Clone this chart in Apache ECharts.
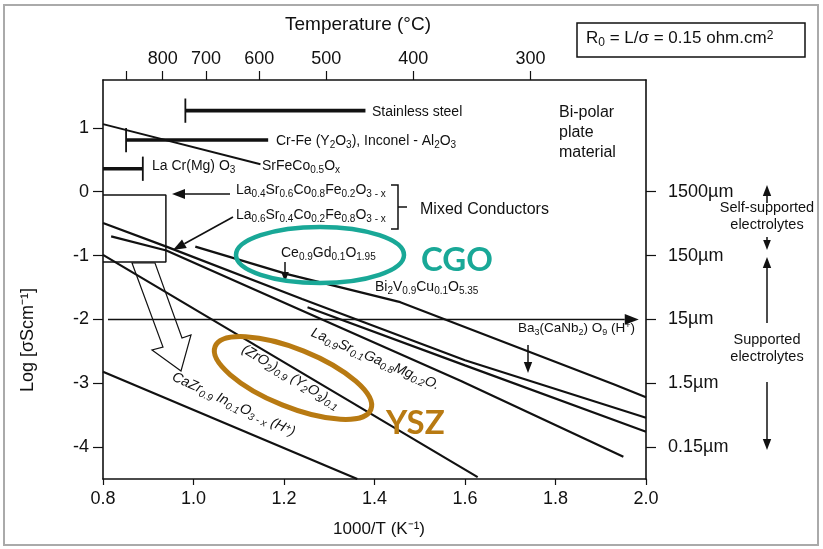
<!DOCTYPE html>
<html lang="en">
<head>
<meta charset="UTF-8">
<title>Conductivity vs 1000/T</title>
<script src="https://cdn.jsdelivr.net/npm/echarts@6/dist/echarts.min.js"></script>
<style>
    html, body { margin: 0; padding: 0; background: #fff; }
    #chart { width: 823px; height: 549px; }
</style>
</head>
<body>
<div id="chart"></div>
<script>
    // lines, points are [1000/T, log sigma]
    var bi2vLine = [[1.004, -0.86], [1.207, -1.29], [1.457, -1.73], [1.93, -3.02], [2.0, -3.22]];
    var lscfLine = [[0.8, -0.49], [0.94, -0.86], [1.24, -1.68], [1.6, -2.64], [2.0, -3.54]];
    var lsgmLine = [[0.818, -0.70], [0.94, -0.92], [1.233, -1.84], [1.59, -2.96], [1.95, -4.15]];
    var ba3Line = [[1.252, -1.81], [1.6, -2.72], [2.0, -3.76]];
    var yszLine = [[0.8, -0.99], [1.628, -4.47]];
    var caZrLine = [[0.8, -2.82], [1.362, -4.5]];
    var srFeCoLine = [[0.8, 1.06], [1.148, 0.43]];

    // bipolar plate ranges: [from, to, log sigma]
    var stainlessBar = [0.982, 1.38, 1.27];
    var crFeBar = [0.851, 1.165, 0.81];
    var laCrBar = [0.8, 0.888, 0.36];
    // mixed conductor box: [x0, x1, yTop, yBottom]
    var mixedBox = [0.8, 0.939, -0.05, -1.10];
    var thicknessLevel = -2;

    var tempTicks = [900, 800, 700, 600, 500, 400, 300];
    var tempLabels = [800, 700, 600, 500, 400, 300];
    var logTicks = [1, 0, -1, -2, -3, -4];
    var thickTicks = [0, -1, -2, -3, -4];
    var thickLabels = ['1500µm', '150µm', '15µm', '1.5µm', '0.15µm'];

    var FONT = 'Liberation Sans, Arial, Helvetica, sans-serif';
    var INK = '#111';

    function inv(t) {
        return 1000 / (t + 273.15);
    }

    function plain(data, width) {
        return {
            type: 'line', data: data, showSymbol: false, silent: true, animation: false,
            lineStyle: { color: INK, width: width || 2.2 }, z: 3
        };
    }

    function bar(b, capAt) {
        var cx = capAt == 'right' ? b[1] : b[0];
        return [
            plain([[b[0], b[2]], [b[1], b[2]]], 3.6),
            plain([[cx, b[2] - 0.19], [cx, b[2] + 0.19]], 1.8)
        ];
    }

    var axisText = { fontSize: 18, color: INK, fontFamily: FONT };

    var chart = echarts.init(document.getElementById('chart'));
    chart.setOption({
        animation: false,
        grid: { left: 103, right: 177, top: 80, bottom: 70 },
        xAxis: [{
            type: 'value', min: 0.8, max: 2.0, interval: 0.2, position: 'bottom',
            axisLine: { onZero: false, lineStyle: { color: INK, width: 1.6 } },
            axisTick: { length: 6, lineStyle: { color: INK, width: 1.2 } },
            axisLabel: Object.assign({ margin: 11, formatter: function(v) { return v.toFixed(1); } }, axisText),
            splitLine: { show: false }
        }, {
            type: 'value', min: 0.8, max: 2.0, position: 'top',
            axisLine: { onZero: false, lineStyle: { color: INK, width: 1.6 } },
            axisTick: { length: 9, customValues: tempTicks.map(inv), lineStyle: { color: INK, width: 1.2 } },
            axisLabel: Object.assign({
                margin: 12,
                customValues: tempLabels.map(inv),
                formatter: function(v) { return Math.round(1000 / v - 273.15); }
            }, axisText),
            splitLine: { show: false }
        }],
        yAxis: [{
            type: 'value', min: -4.5, max: 1.75, position: 'left',
            axisLine: { onZero: false, lineStyle: { color: INK, width: 1.6 } },
            axisTick: { length: 10, customValues: logTicks, lineStyle: { color: INK, width: 1.2 } },
            axisLabel: Object.assign({ margin: 14, customValues: logTicks }, axisText),
            splitLine: { show: false }
        }, {
            type: 'value', min: -4.5, max: 1.75, position: 'right',
            axisLine: { onZero: false, lineStyle: { color: INK, width: 1.6 } },
            axisTick: { length: 10, customValues: thickTicks, lineStyle: { color: INK, width: 1.2 } },
            axisLabel: Object.assign({
                margin: 22,
                customValues: thickTicks,
                formatter: function(v) { return thickLabels[thickTicks.indexOf(Math.round(v))]; }
            }, axisText),
            splitLine: { show: false }
        }],
        series: [
            plain(bi2vLine), plain(lscfLine), plain(lsgmLine), plain(ba3Line),
            plain(yszLine), plain(caZrLine), plain(srFeCoLine, 1.9),
            plain([[mixedBox[0], mixedBox[2]], [mixedBox[1], mixedBox[2]], [mixedBox[1], mixedBox[3]], [mixedBox[0], mixedBox[3]]], 1.5)
        ].concat(bar(stainlessBar, 'left'), bar(crFeBar, 'left'), bar(laCrBar, 'right'))
    });

    // ---- annotations ----
    function toPx(p) {
        return chart.convertToPixel({ xAxisIndex: 0, yAxisIndex: 0 }, p);
    }

    function toRich(str) {
        return str.replace(/_\{([^}]*)\}|\^\{([^}]*)\}|([^_^]+)/g, function(m, sub, sup, txt) {
            if (sub != null) return '{s|' + sub + '}';
            if (sup != null) return '{p|' + sup + '}';
            return '{n|' + txt + '}';
        });
    }

    function richStyles(fs, italic) {
        var base = { fontFamily: FONT, fontStyle: italic ? 'italic' : 'normal', fill: INK, lineHeight: fs + 4 };
        var small = Math.round(fs * 0.68);
        return {
            n: Object.assign({}, base, { fontSize: fs, height: fs, verticalAlign: 'top' }),
            s: Object.assign({}, base, { fontSize: small, height: 0.4 * fs + 8, verticalAlign: 'bottom' }),
            p: Object.assign({}, base, { fontSize: small, height: 0.68 * fs, verticalAlign: 'top' })
        };
    }

    function label(x, y, str, opt) {
        opt = opt || {};
        var fs = opt.size || 14;
        return {
            type: 'text', x: x, y: y, rotation: (opt.rot || 0) * Math.PI / 180, z: 50,
            style: {
                text: toRich(str), rich: richStyles(fs, opt.italic),
                align: opt.align || 'left', verticalAlign: 'middle', fill: INK
            }
        };
    }

    function arrow(p1, p2, size, width) {
        var len = size || 9, w = len * 0.38;
        var ang = Math.atan2(p2[1] - p1[1], p2[0] - p1[0]);
        var c = Math.cos(ang), s = Math.sin(ang);
        var base = [p2[0] - len * c, p2[1] - len * s];
        return [{
            type: 'line', z: 45,
            shape: { x1: p1[0], y1: p1[1], x2: base[0], y2: base[1] },
            style: { stroke: INK, lineWidth: width || 1.5 }
        }, {
            type: 'polygon', z: 45,
            shape: { points: [p2, [base[0] + w * s, base[1] - w * c], [base[0] - w * s, base[1] + w * c]] },
            style: { fill: INK }
        }];
    }

    var graphics = [];
    // scan border and R0 box
    graphics.push({ type: 'rect', z: 1, shape: { x: 4, y: 5, width: 814, height: 540 }, style: { fill: 'none', stroke: '#aaa', lineWidth: 2 } });
    graphics.push({ type: 'rect', z: 50, shape: { x: 577, y: 23, width: 228, height: 34 }, style: { fill: '#fff', stroke: INK, lineWidth: 1.5 } });
    graphics.push(label(586, 40, 'R_{0} = L/σ = 0.15 ohm.cm^{2}', { size: 17 }));

    // axis titles
    graphics.push({ type: 'text', z: 50, x: 358, y: 25, style: { text: 'Temperature (°C)', fontSize: 19, fontFamily: FONT, fill: INK, align: 'center', verticalAlign: 'middle' } });
    graphics.push({ type: 'text', z: 50, x: 379, y: 529, style: { text: '1000/T (K⁻¹)', fontSize: 17, fontFamily: FONT, fill: INK, align: 'center', verticalAlign: 'middle' } });
    graphics.push({ type: 'text', z: 50, x: 28, y: 340, rotation: Math.PI / 2, style: { text: 'Log [σScm⁻¹]', fontSize: 18, fontFamily: FONT, fill: INK, align: 'center', verticalAlign: 'middle' } });

    // text labels
    graphics.push(label(372, 114, 'Stainless steel'));
    graphics.push(label(276, 143, 'Cr-Fe (Y_{2}O_{3}), Inconel - Al_{2}O_{3}'));
    graphics.push(label(152, 168, 'La Cr(Mg) O_{3}'));
    graphics.push(label(262, 168, 'SrFeCo_{0.5}O_{x}'));
    graphics.push(label(236, 192, 'La_{0.4}Sr_{0.6}Co_{0.8}Fe_{0.2}O_{3 - x}'));
    graphics.push(label(236, 217, 'La_{0.6}Sr_{0.4}Co_{0.2}Fe_{0.8}O_{3 - x}'));
    graphics.push(label(420, 212, 'Mixed Conductors', { size: 16 }));
    graphics.push(label(559, 115, 'Bi-polar', { size: 16 }));
    graphics.push(label(559, 135, 'plate', { size: 16 }));
    graphics.push(label(559, 155, 'material', { size: 16 }));
    graphics.push(label(281, 255, 'Ce_{0.9}Gd_{0.1}O_{1.95}'));
    graphics.push(label(375, 289, 'Bi_{2}V_{0.9}Cu_{0.1}O_{5.35}'));
    graphics.push(label(518, 330, 'Ba_{3}(CaNb_{2}) O_{9} (H^{+})', { size: 13.5 }));
    graphics.push(label(311, 334, 'La_{0.9}Sr_{0.1}Ga_{0.8}Mg_{0.2}O.', { rot: -23, italic: true }));
    graphics.push(label(242, 350, '(ZrO_{2})_{0.9} (Y_{2}O_{3})_{0.1}', { rot: -31, italic: true }));
    graphics.push(label(172, 378, 'CaZr_{0.9} In_{0.1}O_{3 - x} (H^{+})', { rot: -25, italic: true }));
    graphics.push(label(767, 210, 'Self-supported', { align: 'center', size: 14.5 }));
    graphics.push(label(767, 227, 'electrolytes', { align: 'center', size: 14.5 }));
    graphics.push(label(767, 342, 'Supported', { align: 'center', size: 14.5 }));
    graphics.push(label(767, 359, 'electrolytes', { align: 'center', size: 14.5 }));

    // bracket for mixed conductors
    graphics.push({ type: 'polyline', z: 45, shape: { points: [[391, 185], [398, 185], [398, 229], [391, 229]] }, style: { stroke: INK, lineWidth: 1.5, fill: 'none' } });
    graphics.push({ type: 'line', z: 45, shape: { x1: 398, y1: 207, x2: 407, y2: 207 }, style: { stroke: INK, lineWidth: 1.5 } });

    // hollow arrow out of the box
    graphics.push({
        type: 'polygon', z: 40,
        shape: { points: [[132, 263], [163, 347], [152, 350], [181, 371], [191, 335], [182, 338], [155, 263]] },
        style: { fill: 'none', stroke: INK, lineWidth: 1.2 }
    });

    // pointer arrows
    var level = toPx([0.811, thicknessLevel]), levelEnd = toPx([1.984, thicknessLevel]);
    graphics = graphics.concat(
        arrow(level, levelEnd, 14, 1.5),
        arrow([230, 194], [172, 194], 13, 1.6),
        arrow([233, 217], [173, 250], 13, 1.6),
        arrow([285, 262], [285, 282], 10, 1.5),
        arrow([528, 345], [528, 373], 11, 1.5),
        arrow([767, 203], [767, 185], 11, 1.5),
        arrow([767, 237], [767, 250], 10, 1.5),
        arrow([767, 323], [767, 257], 11, 1.5),
        arrow([767, 382], [767, 450], 11, 1.5)
    );

    // highlight ellipses and tags
    graphics.push({ type: 'ellipse', z: 60, shape: { cx: 320, cy: 255, rx: 84, ry: 28 }, style: { fill: 'none', stroke: '#19a897', lineWidth: 4.5 } });
    graphics.push({ type: 'ellipse', z: 60, x: 293, y: 378, rotation: -22 * Math.PI / 180, shape: { cx: 0, cy: 0, rx: 84, ry: 29 }, style: { fill: 'none', stroke: '#b87a12', lineWidth: 5 } });
    graphics.push({ type: 'text', z: 60, x: 421, y: 260, style: { text: 'CGO', fontSize: 33, fontWeight: 'bold', fontFamily: 'Lato, Open Sans, sans-serif', fill: '#19a897', verticalAlign: 'middle' } });
    graphics.push({ type: 'text', z: 60, x: 386, y: 423, style: { text: 'YSZ', fontSize: 33, fontWeight: 'bold', fontFamily: 'Lato, Open Sans, sans-serif', fill: '#b87a12', verticalAlign: 'middle' } });

    chart.setOption({ graphic: { elements: graphics } });
</script>
</body>
</html>
